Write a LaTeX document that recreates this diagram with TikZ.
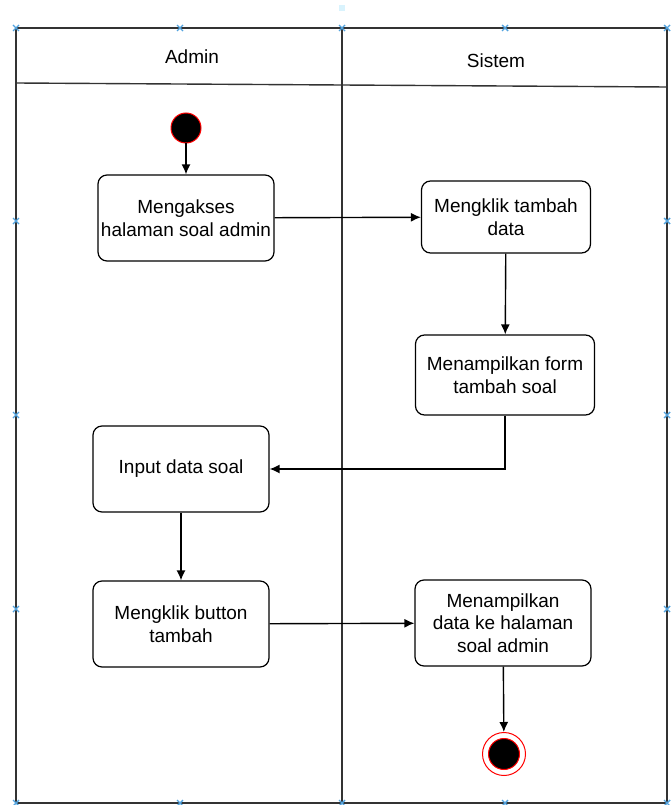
\documentclass[tikz,border=0pt]{standalone}
\usepackage{fontspec}
\setmainfont{Liberation Sans}
\usetikzlibrary{arrows.meta}
\begin{document}
\begin{tikzpicture}[x=1pt, y=-1pt, >={Latex[length=10pt,width=9pt]},
      font=\fontsize{19}{22.5}\selectfont,
      lane/.style={draw=black!80, line width=1.4pt},
      act/.style={draw, line width=1.2pt, rounded corners=9pt, align=center, minimum width=176pt, minimum height=86pt, inner sep=2pt},
      flow/.style={->, line width=1.4pt},
      handle/.style={draw=cyan!70!blue!70, line width=1.4pt}]
    \useasboundingbox (0,0) rectangle (670,805);
    % swimlanes
    \draw[lane] (16,28) rectangle (667,803);
    \draw[lane] (342,28) -- (342,803);
    \draw[lane] (16,83) -- (667,87);
    \node (hadmin) at (192,57) {Admin};
    \node (hsistem) at (496,61) {Sistem};
    % activities
    \node[circle, draw=red, fill=black, line width=1pt, minimum size=30pt, inner sep=0pt] (start) at (186,128) {};
    \node[act] (akses) at (186,218) {Mengakses\\halaman soal admin};
    \node[act, minimum width=169pt, minimum height=72pt] (klik) at (506,217) {Mengklik tambah\\data};
    \node[act, minimum width=179pt, minimum height=80pt] (form) at (505,375) {Menampilkan form\\tambah soal};
    \node[act] (input) at (181,469) {Input data soal};
    \node[act] (button) at (181,624) {Mengklik button\\tambah};
    \node[act] (tampil) at (503,623) {Menampilkan\\data ke halaman\\soal admin};
    \node[circle, draw=red, line width=1pt, minimum size=43pt, inner sep=0pt] (stop) at (504,754) {};
    \node[circle, draw=red, fill=black, line width=1pt, minimum size=31pt, inner sep=0pt] (stopdot) at (stop.center) {};
    % flows
    \draw[flow] (start) -- (akses);
    \draw[flow] (akses) -- (klik);
    \draw[flow] (klik) -- (form);
    \draw[flow] (form.south) |- (input.east);
    \draw[flow] (input) -- (button);
    \draw[flow] (button) -- (tampil);
    \draw[flow] (tampil) -- (stop);
    % selection handles
    \foreach \hx/\hy in {16/28, 180/28, 342/28, 505/28, 667/28, 16/803, 180/803, 342/803, 505/803, 667/803,
        16/221, 16/415, 16/609, 667/221, 667/415, 667/609}
      \draw[handle] (\hx-3,\hy-3) -- (\hx+3,\hy+3) (\hx-3,\hy+3) -- (\hx+3,\hy-3);
    \fill[cyan!15] (339,5) rectangle (345,11);
  \end{tikzpicture}
\end{document}
